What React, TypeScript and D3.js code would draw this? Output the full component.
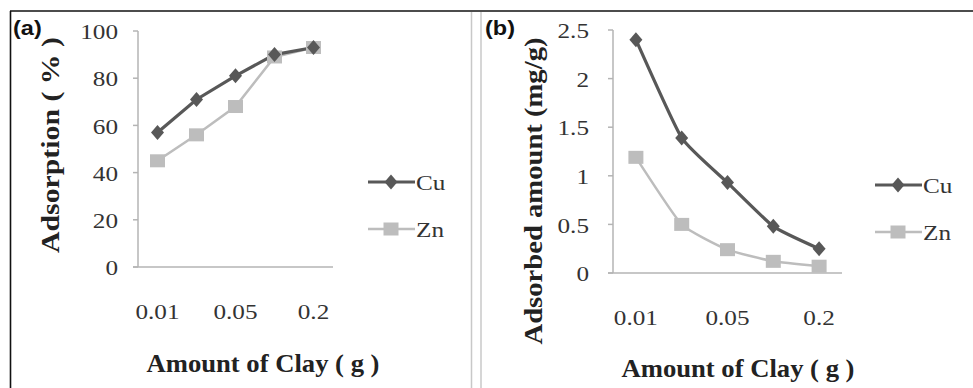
import React from "react";
import * as d3 from "d3";

// amount of clay (g) - only every other label is printed on the axis
const categories = ["0.01", "0.02", "0.05", "0.1", "0.2"];
const shownLabels = ["0.01", "0.05", "0.2"];

// (a) adsorption %
const ticksA = [0, 20, 40, 60, 80, 100];
const cuAdsorption = [57, 71, 81, 90, 93];
const znAdsorption = [45, 56, 68, 89, 93];

// (b) adsorbed amount mg/g
const ticksB = [0, 0.5, 1, 1.5, 2, 2.5];
const cuAmount = [2.4, 1.39, 0.93, 0.48, 0.25];
const znAmount = [1.19, 0.5, 0.24, 0.12, 0.07];

const seriesNames = ["Cu", "Zn"];

const CU = "#585858";
const ZN = "#bdbdbd";
const AXIS = "#b4b4b4";
const TXT = "#333";
const SERIF = "Liberation Serif";

// Excel-ish stretched text
function SText(props: {
  x: number; y: number; children: any; anchor?: string; size?: number;
  sx?: number; bold?: boolean; family?: string; fill?: string;
}) {
  const { x, y, anchor = "start", size = 21, sx = 1.2, bold, family = SERIF, fill = TXT } = props;
  return (
    <text
      transform={`translate(${x},${y}) scale(${sx},1)`}
      textAnchor={anchor}
      dominantBaseline="central"
      style={{ fontFamily: family, fontSize: size, fontWeight: bold ? "bold" : "normal" }}
      fill={fill}
    >
      {props.children}
    </text>
  );
}

function diamond(cx: number, cy: number, w: number, h: number) {
  return `M${cx},${cy - h}L${cx + w},${cy}L${cx},${cy + h}L${cx - w},${cy}Z`;
}

type PanelProps = {
  tag: string;
  tagX: number;
  xRange: [number, number];
  yRange: [number, number];
  ticks: number[];
  cu: number[];
  zn: number[];
  yTitle: string;
  yTitleX: number;
  yTitleY: number;
  yTitleLen: number;
  labelRight: number;
  xLabelY: number;
  xTitleX: number;
  xTitleY: number;
  legendX: number;
  legendY: number;
  smooth: boolean;
};

function Panel(p: PanelProps) {
  const x = d3.scalePoint<string>().domain(categories).range(p.xRange).padding(0.5);
  const y = d3.scaleLinear().domain([0, d3.max(p.ticks) as number]).range(p.yRange);
  const line = d3
    .line<number>()
    .x((_, i) => x(categories[i]) as number)
    .y((d) => y(d))
    .curve(p.smooth ? d3.curveCardinal.tension(0.55) : d3.curveLinear);

  const x0 = p.xRange[0];
  const lx = p.legendX;

  return (
    <g>
      <SText x={p.tagX} y={28} size={21} sx={1.12} bold family="Liberation Sans" fill="#111">
        {p.tag}
      </SText>

      {/* axes */}
      <line x1={x0} x2={x0} y1={p.yRange[1]} y2={p.yRange[0]} stroke={AXIS} strokeWidth={1.5} />
      <line x1={x0 - 5} x2={p.xRange[1]} y1={p.yRange[0]} y2={p.yRange[0]} stroke={AXIS} strokeWidth={1.5} />
      {p.ticks.map((t) => (
        <g key={t}>
          <line x1={x0 - 5} x2={x0} y1={y(t)} y2={y(t)} stroke={AXIS} strokeWidth={1.5} />
          <SText x={p.labelRight} y={y(t) + 1} anchor="end">
            {String(t)}
          </SText>
        </g>
      ))}
      {shownLabels.map((c) => (
        <SText key={c} x={x(c) as number} y={p.xLabelY} anchor="middle">
          {c}
        </SText>
      ))}

      {/* titles */}
      <text
        x={p.xTitleX}
        y={p.xTitleY}
        textAnchor="middle"
        dominantBaseline="central"
        style={{ fontFamily: SERIF, fontWeight: "bold", fontSize: 26 }}
        fill="#222"
        textLength={233}
        lengthAdjust="spacingAndGlyphs"
      >
        Amount of Clay ( g )
      </text>
      <text
        transform={`translate(${p.yTitleX},${p.yTitleY}) rotate(-90)`}
        textAnchor="middle"
        dominantBaseline="central"
        style={{ fontFamily: SERIF, fontWeight: "bold", fontSize: 26 }}
        fill="#222"
        textLength={p.yTitleLen}
        lengthAdjust="spacingAndGlyphs"
      >
        {p.yTitle}
      </text>

      {/* series */}
      <path d={line(p.zn) as string} fill="none" stroke={ZN} strokeWidth={2.5} />
      <path d={line(p.cu) as string} fill="none" stroke={CU} strokeWidth={3.2} />
      {p.zn.map((v, i) => (
        <rect key={"z" + i} x={(x(categories[i]) as number) - 7.5} y={y(v) - 6.5} width={15} height={13} fill={ZN} />
      ))}
      {p.cu.map((v, i) => (
        <path key={"c" + i} d={diamond(x(categories[i]) as number, y(v), 6.5, 7.5)} fill={CU} />
      ))}

      {/* legend */}
      {seriesNames.map((name, i) => {
        const ly = p.legendY + i * 47;
        const col = i === 0 ? CU : ZN;
        return (
          <g key={name}>
            <line x1={lx} x2={lx + 47} y1={ly} y2={ly} stroke={col} strokeWidth={i === 0 ? 3.2 : 2.5} />
            {i === 0 ? (
              <path d={diamond(lx + 23, ly, 6.5, 7.5)} fill={CU} />
            ) : (
              <rect x={lx + 15.5} y={ly - 6.5} width={15} height={13} fill={ZN} />
            )}
            <SText x={lx + 48} y={ly + 1}>
              {name}
            </SText>
          </g>
        );
      })}
    </g>
  );
}

export default function App() {
  return (
    <svg
      width={973}
      height={388}
      style={{ position: "absolute", left: 0, top: 0, background: "#fff" }}
    >
      <rect x={0} y={0} width={973} height={388} fill="#fff" />
      {/* frame */}
      <line x1={10} x2={973} y1={11} y2={11} stroke="#111" strokeWidth={1.6} />
      <line x1={10.5} x2={10.5} y1={11} y2={388} stroke="#111" strokeWidth={1.6} />
      <line x1={471.5} x2={471.5} y1={12} y2={388} stroke="#c8c8c8" strokeWidth={1.5} />
      <line x1={481} x2={481} y1={12} y2={388} stroke="#c8c8c8" strokeWidth={1.5} />

      <Panel
        tag="(a)"
        tagX={13}
        xRange={[138, 333]}
        yRange={[267, 31]}
        ticks={ticksA}
        cu={cuAdsorption}
        zn={znAdsorption}
        yTitle="Adsorption ( % )"
        yTitleX={50}
        yTitleY={145}
        yTitleLen={216}
        labelRight={118}
        xLabelY={312}
        xTitleX={263}
        xTitleY={363}
        legendX={368}
        legendY={182}
        smooth={false}
      />
      <Panel
        tag="(b)"
        tagX={485}
        xRange={[613, 842]}
        yRange={[273, 30]}
        ticks={ticksB}
        cu={cuAmount}
        zn={znAmount}
        yTitle="Adsorbed amount (mg/g)"
        yTitleX={533}
        yTitleY={191}
        yTitleLen={307}
        labelRight={589}
        xLabelY={318}
        xTitleX={738}
        xTitleY={368}
        legendX={875}
        legendY={185}
        smooth={true}
      />
    </svg>
  );
}
